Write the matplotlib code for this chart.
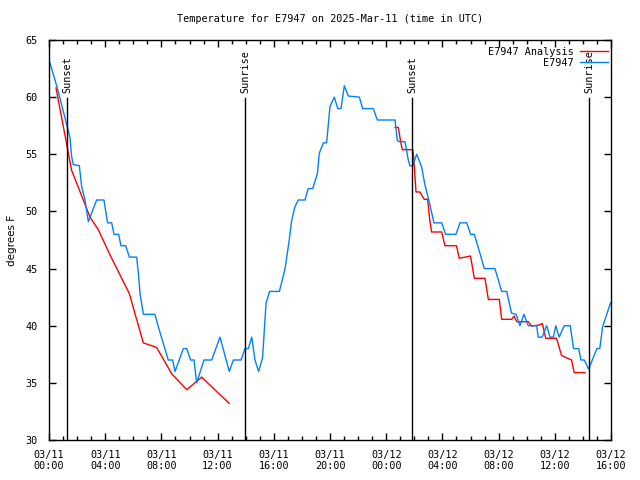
import matplotlib
matplotlib.use('Agg')
import matplotlib.pyplot as plt

# hours since 03/11 00:00 UTC
obs_hours = [0.07, 0.59, 1.30, 1.49, 1.61, 1.73, 2.16, 2.32, 2.56, 2.80, 3.39, 3.91, 4.17, 4.46, 4.63,
             4.96, 5.12, 5.46, 5.72, 6.24, 6.36, 6.48, 6.72, 7.54, 7.78, 8.49, 8.80, 8.97, 9.56, 9.80,
             10.08, 10.32, 10.51, 11.03, 11.58, 12.17, 12.83, 13.12, 13.67, 13.95, 14.19, 14.43, 14.66,
             14.92, 15.20, 15.45, 15.70, 16.00, 16.40, 16.80, 17.10, 17.27, 17.50, 17.74, 18.22, 18.45,
             18.77, 19.10, 19.24, 19.53, 19.76, 20.00, 20.31, 20.55, 20.78, 21.02, 21.30, 22.09, 22.32,
             23.08, 23.37, 24.63, 24.79, 24.93, 25.34, 25.57, 25.69, 25.89, 26.17, 26.52, 26.76, 27.07,
             27.40, 27.95, 28.23, 28.97, 29.25, 29.73, 30.01, 30.27, 30.68, 30.98, 31.74, 32.22, 32.58,
             32.92, 33.25, 33.52, 33.80, 34.11, 34.71, 34.82, 35.10, 35.42, 35.66, 35.90, 36.07, 36.31,
             36.67, 37.10, 37.33, 37.70, 37.86, 38.10, 38.41, 38.70, 39.00, 39.20, 39.40, 39.97]
obs_temp = [63.0, 60.8, 57.4, 56.5, 54.8, 54.1, 54.0, 52.2, 51.0, 49.1, 51.0, 51.0, 49.0, 49.0, 48.0,
            48.0, 47.0, 47.0, 46.0, 46.0, 44.6, 42.8, 41.0, 41.0, 39.9, 37.0, 37.0, 36.0, 38.0, 38.0,
            37.0, 37.0, 35.0, 37.0, 37.0, 39.0, 36.0, 37.0, 37.0, 38.0, 38.0, 39.0, 37.0,
            36.0, 37.2, 42.0, 43.0, 43.0, 43.0, 45.0, 47.5, 49.2, 50.4, 51.0, 51.0, 52.0,
            52.0, 53.3, 55.1, 56.0, 56.0, 59.2, 60.0, 59.0, 59.0, 61.0, 60.1, 60.0, 59.0,
            59.0, 58.0, 58.0, 56.2, 56.1, 56.1, 54.5, 54.0, 54.0, 55.0, 53.9, 52.3, 50.8,
            49.0, 49.0, 48.0, 48.0, 49.0, 49.0, 48.0, 48.0, 46.3, 45.0, 45.0, 43.0, 43.0,
            41.1, 41.0, 40.0, 41.0, 40.0, 40.0, 39.0, 39.0, 40.0, 39.0, 39.0, 40.0, 39.0,
            40.0, 40.0, 38.0, 38.0, 37.0, 37.0, 36.2, 37.1, 38.0, 38.0, 39.9, 42.0]

ana_hours_1 = [0.50, 1.30, 1.61, 2.44, 2.92, 3.51, 4.34, 5.72, 6.71, 7.66, 8.73, 9.80, 10.87, 12.05, 12.83]
ana_temp_1 = [60.8, 55.6, 53.6, 51.0, 49.5, 48.4, 46.2, 42.8, 38.5, 38.1, 35.8, 34.4, 35.5, 34.1, 33.2]
ana_hours_2 = [24.63, 24.86, 25.05, 25.15, 25.90, 25.97, 26.12, 26.40, 26.70, 26.95, 27.10, 27.23, 27.95,
               28.18, 29.00, 29.20, 30.00, 30.27, 31.03, 31.27, 32.05, 32.22, 32.93, 33.10, 33.29, 34.11,
               34.35, 34.90, 35.11, 35.35, 36.12, 36.48, 37.19, 37.38, 38.15]
ana_temp_2 = [57.35, 57.35, 55.95, 55.4, 55.4, 54.5, 51.7, 51.7, 51.06, 51.06, 49.25, 48.2, 48.2,
              47.0, 47.0, 45.9, 46.1, 44.15, 44.15, 42.3, 42.3, 40.56, 40.56, 40.85, 40.35, 40.35,
              39.97, 40.06, 40.2, 38.9, 38.9, 37.4, 37.0, 35.9, 35.9]

events = ['Sunset', 'Sunrise', 'Sunset', 'Sunrise']
event_hours = [1.30, 13.98, 25.86, 38.46]

tick_hours = [0, 4, 8, 12, 16, 20, 24, 28, 32, 36, 40]
tick_labels = ['03/11\n00:00', '03/11\n04:00', '03/11\n08:00', '03/11\n12:00', '03/11\n16:00',
               '03/11\n20:00', '03/12\n00:00', '03/12\n04:00', '03/12\n08:00', '03/12\n12:00',
               '03/12\n16:00']

mono = 'DejaVu Sans Mono'
fs = 7.3

fig = plt.figure(figsize=(6.4, 4.8), dpi=100)
ax = fig.add_axes([49/640, 40/480, 562/640, 400/480])

ax.plot(ana_hours_1, ana_temp_1, color='#ff0000', lw=1, label='E7947 Analysis')
ax.plot(ana_hours_2, ana_temp_2, color='#ff0000', lw=1)
ax.plot(obs_hours, obs_temp, color='#0080ff', lw=1, label='E7947')

for name, h in zip(events, event_hours):
  ax.plot([h, h], [30, 59.9], color='black', lw=1)
  ax.text(h, 60.4, name, rotation=90, ha='center', va='bottom', fontsize=fs, family=mono)

ax.set_xlim(0, 40)
ax.set_ylim(30, 65)
ax.set_xticks(tick_hours)
ax.set_xticklabels(tick_labels, family=mono, fontsize=fs)
ax.set_xticks(range(0, 41), minor=True)
ax.set_yticks(range(30, 66, 5))
ax.set_yticklabels([str(v) for v in range(30, 66, 5)], family=mono, fontsize=fs)

ax.tick_params(axis='both', which='major', direction='in', length=5, width=1, top=True, right=True)
ax.tick_params(axis='x', which='major', pad=7)
ax.tick_params(axis='y', which='major', pad=8)
ax.tick_params(axis='x', which='minor', direction='in', length=3, width=1, top=True)
[sp.set_linewidth(1) for sp in ax.spines.values()]

ax.set_ylabel('degrees F', fontsize=7.5, labelpad=6)
ax.set_title('Temperature for E7947 on 2025-Mar-11 (time in UTC)', family=mono, fontsize=fs, pad=13)

leg = ax.legend(loc='upper right', bbox_to_anchor=(1.0, 0.99), frameon=False, markerfirst=False,
                prop={'family': mono, 'size': fs}, handlelength=2.8, handletextpad=0.6,
                labelspacing=0.1, borderpad=0.2, borderaxespad=0.05)
for t in leg.get_texts():
  t.set_ha('right')

fig.savefig('out.png', dpi=100)
